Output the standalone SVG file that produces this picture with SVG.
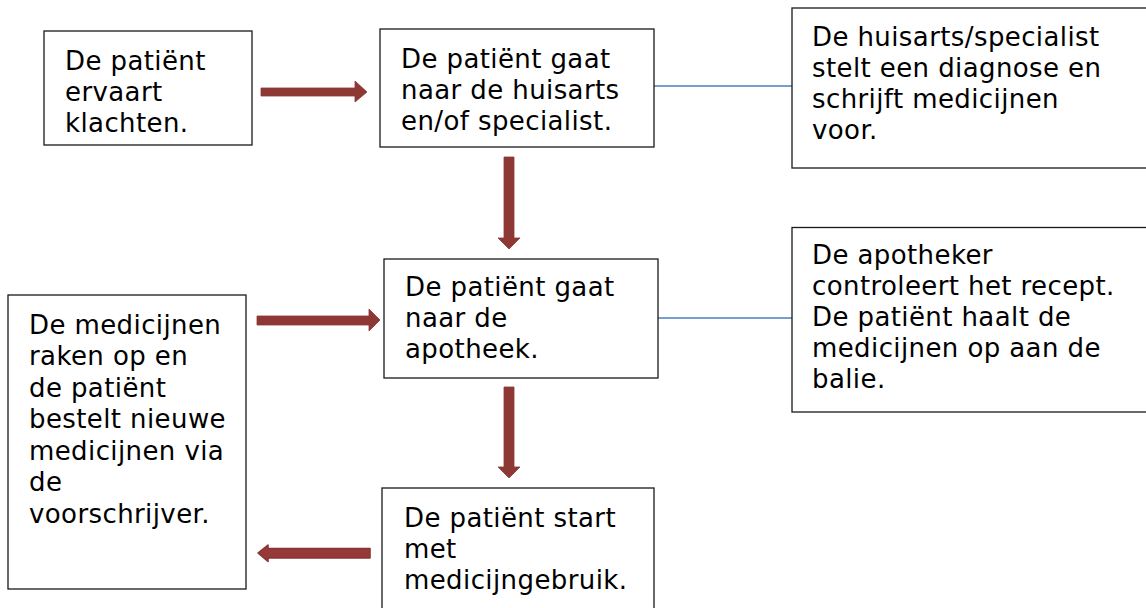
<svg xmlns="http://www.w3.org/2000/svg" width="1146" height="608" viewBox="0 0 1146 608">
  <style>
    .box { fill: #ffffff; stroke: #1a1a1a; stroke-width: 1.3; }
    .txt { font-family: "DejaVu Sans", Verdana, sans-serif; font-size: 26px; letter-spacing: 0.4px; fill: #000000; }
    .block { fill: #8e3836; stroke: #8e3836; stroke-width: 0.8; stroke-linejoin: miter; }
    .block-soft { fill: #953a38; stroke: #8a3533; stroke-width: 1.6; stroke-linejoin: round; }
    .link { stroke: #4a7ebb; stroke-width: 1.6; fill: none; }
  </style>
  <rect width="1146" height="608" fill="#ffffff"/>

  <!-- connectors: block arrows and plain lines -->
  <g id="connectors">
    <polygon class="block" points="261,88 355,88 355,81 367,92 355,102 355,96 261,96"/>
    <polygon class="block" points="504,157 514,157 514,238 520,238 509,249 498,238 504,238"/>
    <polygon class="block" points="257,316 369,316 369,309 380,320 369,331 369,325 257,325"/>
    <polygon class="block" points="504,387 514,387 514,467 520,467 509,478 498,467 504,467"/>
    <polygon class="block-soft" points="370,548.5 268,548.5 268,545 258,553 268,561.5 268,558 370,558"/>
    <line class="link" x1="654" y1="86" x2="792" y2="86"/>
    <line class="link" x1="658" y1="318" x2="792" y2="318"/>
  </g>

  <g id="node-klachten">
    <rect class="box" x="44" y="31" width="208" height="114"/>
    <text class="txt" x="65" y="69.5">De patiënt</text>
    <text class="txt" x="65" y="100.7">ervaart</text>
    <text class="txt" x="65" y="131.9">klachten.</text>
  </g>

  <g id="node-huisarts">
    <rect class="box" x="380" y="29" width="274" height="118"/>
    <text class="txt" x="401" y="67.5">De patiënt gaat</text>
    <text class="txt" x="401" y="98.7">naar de huisarts</text>
    <text class="txt" x="401" y="129.9">en/of specialist.</text>
  </g>

  <g id="node-diagnose">
    <rect class="box" x="792" y="8" width="360" height="160"/>
    <text class="txt" x="812" y="46">De huisarts/specialist</text>
    <text class="txt" x="812" y="77">stelt een diagnose en</text>
    <text class="txt" x="812" y="108">schrijft medicijnen</text>
    <text class="txt" x="812" y="139">voor.</text>
  </g>

  <g id="node-apotheek">
    <rect class="box" x="384" y="259" width="274" height="119"/>
    <text class="txt" x="405" y="296">De patiënt gaat</text>
    <text class="txt" x="405" y="327">naar de</text>
    <text class="txt" x="405" y="358">apotheek.</text>
  </g>

  <g id="node-recept">
    <rect class="box" x="792" y="227.5" width="360" height="184.5"/>
    <text class="txt" x="812" y="263.5">De apotheker</text>
    <text class="txt" x="812" y="294.7">controleert het recept.</text>
    <text class="txt" x="812" y="325.9">De patiënt haalt de</text>
    <text class="txt" x="812" y="357.1">medicijnen op aan de</text>
    <text class="txt" x="812" y="388.3">balie.</text>
  </g>

  <g id="node-bestellen">
    <rect class="box" x="8" y="295" width="238" height="294"/>
    <text class="txt" x="29" y="333.5">De medicijnen</text>
    <text class="txt" x="29" y="365">raken op en</text>
    <text class="txt" x="29" y="396.5">de patiënt</text>
    <text class="txt" x="29" y="428">bestelt nieuwe</text>
    <text class="txt" x="29" y="459.5">medicijnen via</text>
    <text class="txt" x="29" y="491">de</text>
    <text class="txt" x="29" y="522.5">voorschrijver.</text>
  </g>

  <g id="node-gebruik">
    <rect class="box" x="382" y="488" width="272" height="130"/>
    <text class="txt" x="404" y="527">De patiënt start</text>
    <text class="txt" x="404" y="558">met</text>
    <text class="txt" x="404" y="589">medicijngebruik.</text>
  </g>
</svg>
